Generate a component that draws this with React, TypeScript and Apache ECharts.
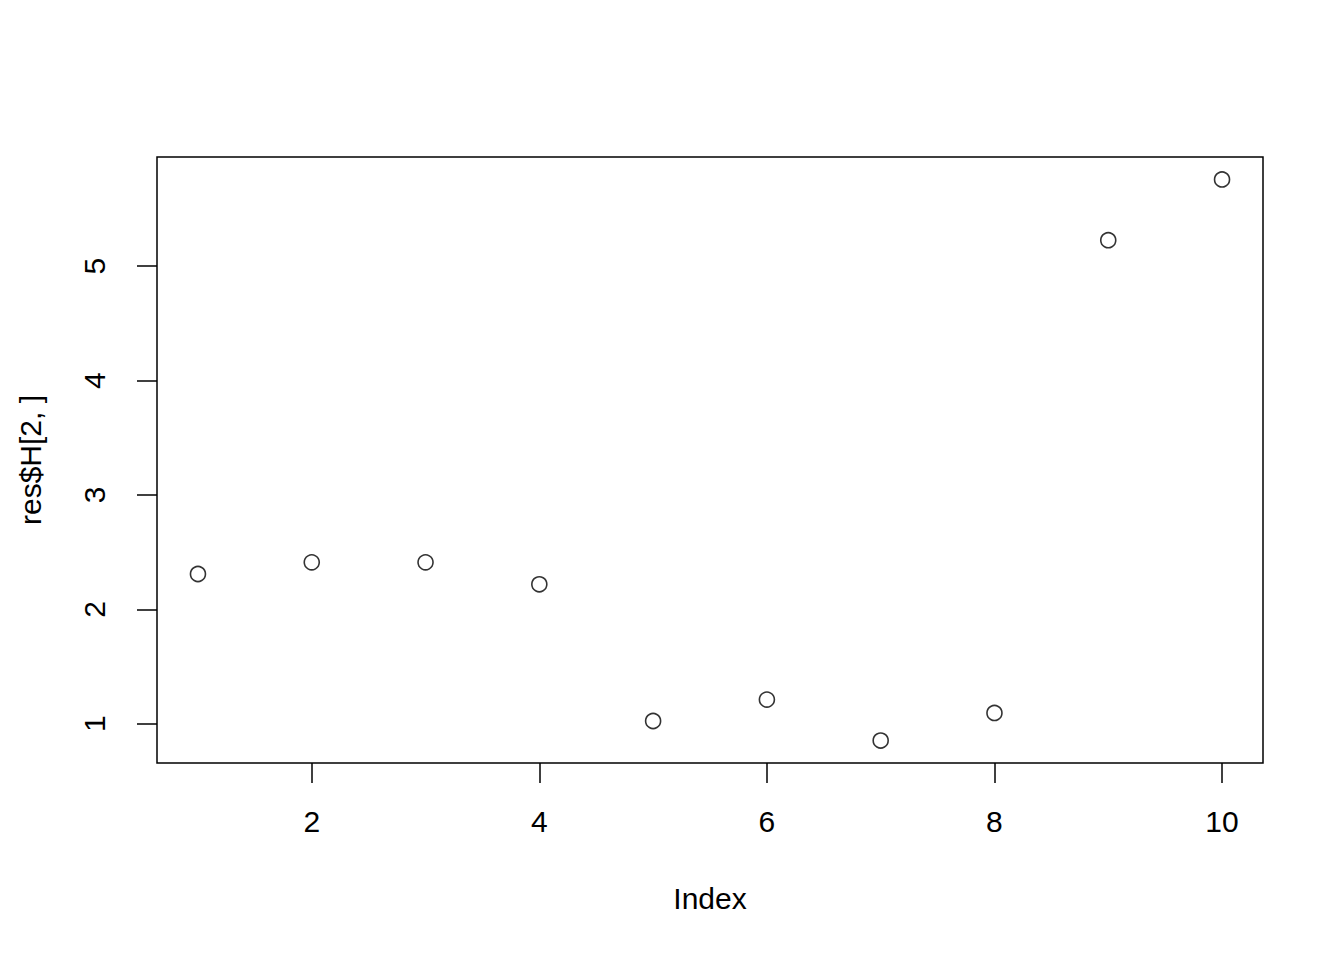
import React, { useEffect, useRef } from "react";
import * as echarts from "echarts";

const indexValues = [1, 2, 3, 4, 5, 6, 7, 8, 9, 10];
const hValues = [2.309, 2.411, 2.411, 2.219, 1.024, 1.211, 0.853, 1.094, 5.227, 5.758];
const xTicks = [2, 4, 6, 8, 10];
const yTicks = [1, 2, 3, 4, 5];

function extent(arr: number[]) {
  const lo = Math.min(...arr);
  const hi = Math.max(...arr);
  const pad = (hi - lo) * 0.04;
  return [lo - pad, hi + pad];
}

export default function App() {
  const ref = useRef<HTMLDivElement>(null);
  useEffect(() => {
    if (!ref.current) return;
    const chart = echarts.init(ref.current, null, { renderer: "svg" });
    const [xmin, xmax] = extent(indexValues);
    const [ymin, ymax] = extent(hValues);
    const font = "'Liberation Sans', Arial, Helvetica, sans-serif";
    const fs = 30;
    chart.setOption({
      animation: false,
      backgroundColor: "#ffffff",
      grid: {
        left: 157,
        right: 81,
        top: 157,
        bottom: 197,
        show: true,
        borderColor: "#000000",
        borderWidth: 1.5,
        backgroundColor: "transparent",
      },
      xAxis: {
        type: "value",
        min: xmin,
        max: xmax,
        name: "Index",
        nameLocation: "middle",
        nameGap: 120,
        nameTextStyle: { fontFamily: font, fontSize: fs, color: "#000", lineHeight: fs },
        axisLine: { show: false },
        splitLine: { show: false },
        axisTick: {
          show: true,
          inside: false,
          length: 20,
          customValues: xTicks,
          lineStyle: { color: "#000", width: 1.5 },
        },
        axisLabel: {
          show: true,
          customValues: xTicks,
          margin: 43,
          fontFamily: font,
          fontSize: fs,
          lineHeight: fs,
          color: "#000",
        },
      },
      yAxis: {
        type: "value",
        min: ymin,
        max: ymax,
        name: "res$H[2, ]",
        nameLocation: "middle",
        nameRotate: 90,
        nameGap: 112,
        nameTextStyle: { fontFamily: font, fontSize: fs, color: "#000", lineHeight: fs },
        axisLine: { show: false },
        splitLine: { show: false },
        axisTick: {
          show: true,
          inside: false,
          length: 20,
          customValues: yTicks,
          lineStyle: { color: "#000", width: 1.5 },
        },
        axisLabel: {
          show: true,
          customValues: yTicks,
          rotate: 90,
          margin: 48,
          fontFamily: font,
          fontSize: fs,
          lineHeight: fs,
          color: "#000",
        },
      },
      series: [
        {
          type: "scatter",
          data: indexValues.map((x, i) => [x, hValues[i]]),
          symbol: "circle",
          symbolSize: 15,
          itemStyle: { color: "transparent", borderColor: "#000", borderWidth: 1.6 },
          emphasis: { disabled: true },
        },
      ],
    });
    return () => chart.dispose();
  }, []);
  return (
    <div
      ref={ref}
      style={{ position: "fixed", left: 0, top: 0, width: 1344, height: 960, background: "#fff" }}
    />
  );
}
